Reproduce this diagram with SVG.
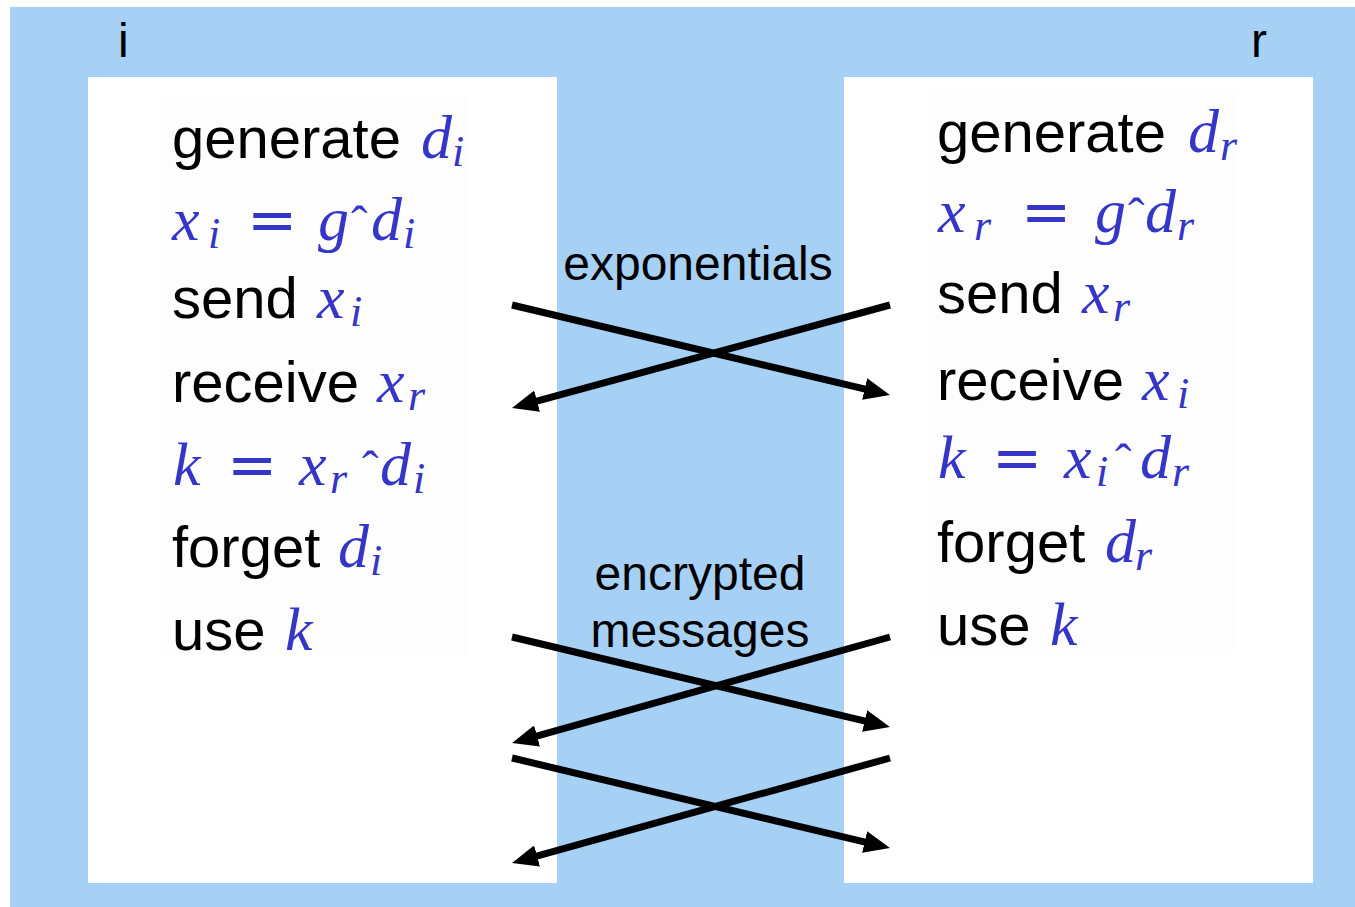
<svg xmlns="http://www.w3.org/2000/svg" width="1355" height="907" viewBox="0 0 1355 907">
<style>
.t{font-family:"Liberation Sans",Arial,sans-serif;font-size:58px;fill:#000}
.lab{font-family:"Liberation Sans",Arial,sans-serif;font-size:48px;fill:#000}
.m{font-family:"Liberation Serif","Times New Roman",serif;font-style:italic;font-size:62px;fill:#3535c8}
.s{font-family:"Liberation Serif","Times New Roman",serif;font-style:italic;font-size:44px;fill:#3535c8}
.eq{font-family:"DejaVu Sans",sans-serif;font-size:60px;fill:#3535c8}
.h{font-family:"Liberation Serif","Times New Roman",serif;font-size:50px;fill:#3535c8}
.arr{stroke:#000;stroke-width:7;fill:none;marker-end:url(#ah)}
</style>
<defs>
<marker id="ah" markerUnits="userSpaceOnUse" markerWidth="26" markerHeight="22" viewBox="0 0 26 22" refX="6" refY="11" orient="auto">
<path d="M0,0 L26,11 L0,22 z" fill="#000"/>
</marker>
</defs>
<rect x="10" y="7" width="1345" height="900" fill="#a7d0f5"/>
<text class="lab" x="118" y="57">i</text>
<text class="lab" x="1251" y="57">r</text>
<g id="node-i">
<rect x="88" y="77" width="469" height="806" fill="#fff"/>
<rect x="162" y="95" width="305" height="560" fill="#fdfdfe"/>
<text class="t" x="172" y="158">generate</text>
<text class="m" x="421" y="158">d</text><text class="s" x="452" y="166">i</text>
<text class="m" x="172" y="240">x</text><text class="s" x="208" y="248">i</text>
<text class="eq" x="247" y="240">=</text>
<text class="m" x="318" y="240">g</text><text class="h" x="351" y="241">ˆ</text>
<text class="m" x="371" y="240">d</text><text class="s" x="403" y="248">i</text>
<text class="t" x="172" y="318">send</text>
<text class="m" x="317" y="318">x</text><text class="s" x="350" y="326">i</text>
<text class="t" x="172" y="402">receive</text>
<text class="m" x="377" y="402">x</text><text class="s" x="408" y="410">r</text>
<text class="m" x="173" y="485">k</text>
<text class="eq" x="227" y="485">=</text>
<text class="m" x="299" y="485">x</text><text class="s" x="330" y="493">r</text>
<text class="h" x="362" y="486">ˆ</text>
<text class="m" x="380" y="485">d</text><text class="s" x="413" y="493">i</text>
<text class="t" x="172" y="567">forget</text>
<text class="m" x="338" y="567">d</text><text class="s" x="370" y="575">i</text>
<text class="t" x="172" y="650">use</text>
<text class="m" x="285" y="650">k</text>
</g>
<g id="node-r">
<rect x="844" y="77" width="469" height="806" fill="#fff"/>
<rect x="928" y="90" width="307" height="560" fill="#fdfdfe"/>
<text class="t" x="937" y="152">generate</text>
<text class="m" x="1188" y="152">d</text><text class="s" x="1220" y="160">r</text>
<text class="m" x="938" y="232">x</text><text class="s" x="974" y="240">r</text>
<text class="eq" x="1021" y="232">=</text>
<text class="m" x="1095" y="232">g</text><text class="h" x="1128" y="233">ˆ</text>
<text class="m" x="1145" y="232">d</text><text class="s" x="1177" y="240">r</text>
<text class="t" x="937" y="313">send</text>
<text class="m" x="1082" y="313">x</text><text class="s" x="1113" y="321">r</text>
<text class="t" x="937" y="400">receive</text>
<text class="m" x="1142" y="400">x</text><text class="s" x="1177" y="408">i</text>
<text class="m" x="938" y="478">k</text>
<text class="eq" x="992" y="478">=</text>
<text class="m" x="1064" y="478">x</text><text class="s" x="1096" y="486">i</text>
<text class="h" x="1115" y="479">ˆ</text>
<text class="m" x="1140" y="478">d</text><text class="s" x="1172" y="486">r</text>
<text class="t" x="937" y="562">forget</text>
<text class="m" x="1105" y="562">d</text><text class="s" x="1135" y="570">r</text>
<text class="t" x="937" y="645">use</text>
<text class="m" x="1050" y="645">k</text>
</g>
<g id="labels">
<text class="lab" x="698" y="280" text-anchor="middle">exponentials</text>
<text class="lab" x="700" y="590" text-anchor="middle">encrypted</text>
<text class="lab" x="700" y="647" text-anchor="middle">messages</text>
</g>
<g id="connectors">
<line class="arr" x1="512" y1="305" x2="870.5" y2="390.4"/>
<line class="arr" x1="890" y1="305" x2="531.3" y2="402.7"/>
<line class="arr" x1="512" y1="637" x2="870.5" y2="722.4"/>
<line class="arr" x1="890" y1="637" x2="531.3" y2="737.6"/>
<line class="arr" x1="512" y1="758" x2="870.5" y2="843.4"/>
<line class="arr" x1="890" y1="758" x2="531.3" y2="857.6"/>
</g>
</svg>
